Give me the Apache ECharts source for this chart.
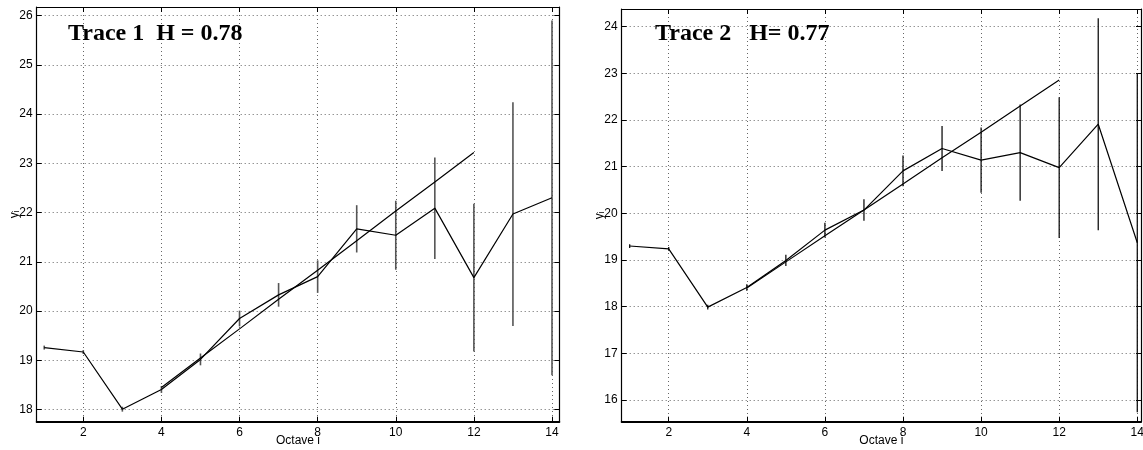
<!DOCTYPE html>
<html>
<head>
<meta charset="utf-8">
<script src="https://cdn.jsdelivr.net/npm/echarts@6/dist/echarts.min.js"></script>
<style>
  html, body { margin: 0; padding: 0; background: #fff; }
  #chart { width: 1143px; height: 450px; }
</style>
</head>
<body>
<div id="chart"></div>
<script>
// Octave index shared by both traces
const octaves = [1, 2, 3, 4, 5, 6, 7, 8, 9, 10, 11, 12, 13, 14];

// Trace 1: mean log-energy per octave, error half-widths, and fitted line over octaves 4..12
const trace1Mean = [19.26, 19.17, 18.01, 18.41, 19.02, 19.85, 20.33, 20.70, 21.67, 21.54, 22.09, 20.68, 21.97, 22.30];
const trace1Err  = [0.04, 0.04, 0.05, 0.07, 0.12, 0.16, 0.24, 0.33, 0.48, 0.70, 1.03, 1.50, 2.27, 3.60];
const fitOctaves = [4, 5, 6, 7, 8, 9, 10, 11, 12];
const trace1Fit  = [18.45, 19.05, 19.64, 20.24, 20.83, 21.43, 22.03, 22.62, 23.22];

// Trace 2
const trace2Mean = [19.30, 19.24, 17.99, 18.41, 18.99, 19.64, 20.07, 20.91, 21.39, 21.14, 21.30, 20.98, 21.91, 19.37];
const trace2Err  = [0.04, 0.04, 0.05, 0.07, 0.12, 0.16, 0.23, 0.33, 0.48, 0.70, 1.03, 1.51, 2.27, 3.63];
const trace2Fit  = [18.40, 18.96, 19.52, 20.07, 20.63, 21.19, 21.74, 22.30, 22.86];

// Tick labels
const xTicks  = [2, 4, 6, 8, 10, 12, 14];
const y1Ticks = [18, 19, 20, 21, 22, 23, 24, 25, 26];
const y2Ticks = [16, 17, 18, 19, 20, 21, 22, 23, 24];

const titles = ['Trace 1  H = 0.78', 'Trace 2   H= 0.77'];

const sansFont = 'Liberation Sans, Arial, sans-serif';
const serifFont = 'Liberation Serif, Times New Roman, serif';

const pairs = (xs, ys) => xs.map((x, i) => [x, ys[i]]);

function frameAxis(dim, gridIndex, pos, min, max, ticks, primary, extra) {
  const ax = {
    type: 'value',
    gridIndex: gridIndex,
    position: pos,
    min: min,
    max: max,
    axisLine: { show: true, onZero: false, lineStyle: { color: '#000', width: dim === 'x' && pos === 'bottom' ? 2 : 1.2 } },
    axisTick: { show: true, inside: true, length: 5, customValues: ticks, lineStyle: { color: '#000', width: 1 } },
    axisLabel: primary
      ? { show: true, customValues: ticks, color: '#000', fontSize: 12, fontFamily: sansFont, margin: dim === 'x' ? 5 : 4 }
      : { show: false },
    splitLine: primary
      ? { show: true, lineStyle: { color: '#666', width: 1, type: [1, 3] } }
      : { show: false }
  };
  return Object.assign(ax, extra || {});
}

function errorBars(xIdx, xs, mean, err, color, width) {
  return {
    type: 'custom',
    xAxisIndex: xIdx,
    yAxisIndex: xIdx,
    data: xs.map((x, i) => [x, mean[i] - err[i], mean[i] + err[i]]),
    encode: { x: 0, y: [1, 2] },
    renderItem: function (params, api) {
      const lo = api.coord([api.value(0), api.value(1)]);
      const hi = api.coord([api.value(0), api.value(2)]);
      return {
        type: 'line',
        shape: { x1: lo[0], y1: lo[1], x2: hi[0], y2: hi[1] },
        style: { stroke: color, lineWidth: width }
      };
    },
    z: 3
  };
}

function lineSeries(xIdx, data) {
  return {
    type: 'line',
    xAxisIndex: xIdx,
    yAxisIndex: xIdx,
    data: data,
    showSymbol: false,
    symbol: 'none',
    lineStyle: { color: '#000', width: 1.2 },
    z: 4
  };
}

const xName = {
  name: 'Octave i',
  nameLocation: 'middle',
  nameGap: 13,
  nameMoveOverlap: false,
  nameTextStyle: { color: '#000', fontSize: 12, fontFamily: sansFont, verticalAlign: 'top' }
};
const yName = {
  name: 'yᵢ',
  nameLocation: 'middle',
  nameGap: 16,
  nameMoveOverlap: false,
  nameTextStyle: { color: '#000', fontSize: 12, fontFamily: sansFont }
};

const option = {
  animation: false,
  backgroundColor: '#fff',
  title: [
    { text: titles[0], left: 68, top: 22, padding: 0,
      textStyle: { fontFamily: serifFont, fontWeight: 'bold', fontSize: 24, color: '#000' } },
    { text: titles[1], left: 655, top: 22, padding: 0,
      textStyle: { fontFamily: serifFont, fontWeight: 'bold', fontSize: 24, color: '#000' } }
  ],
  grid: [
    { left: 36.7, top: 7, width: 522.6, height: 414.7, containLabel: false, outerBoundsMode: 'none' },
    { left: 621.7, top: 9, width: 519.3, height: 412.7, containLabel: false, outerBoundsMode: 'none' }
  ],
  xAxis: [
    frameAxis('x', 0, 'bottom', 0.807, 14.187, xTicks, true, xName),
    frameAxis('x', 1, 'bottom', 0.796, 14.095, xTicks, true, xName),
    frameAxis('x', 0, 'top', 0.807, 14.187, xTicks, false),
    frameAxis('x', 1, 'top', 0.796, 14.095, xTicks, false)
  ],
  yAxis: [
    frameAxis('y', 0, 'left', 17.756, 26.172, y1Ticks, true, yName),
    frameAxis('y', 1, 'left', 15.535, 24.379, y2Ticks, true, yName),
    frameAxis('y', 0, 'right', 17.756, 26.172, y1Ticks, false),
    frameAxis('y', 1, 'right', 15.535, 24.379, y2Ticks, false)
  ],
  series: [
    errorBars(0, octaves, trace1Mean, trace1Err, '#555', 1.6),
    lineSeries(0, pairs(octaves, trace1Mean)),
    lineSeries(0, pairs(fitOctaves, trace1Fit)),
    errorBars(1, octaves, trace2Mean, trace2Err, '#111', 1.3),
    lineSeries(1, pairs(octaves, trace2Mean)),
    lineSeries(1, pairs(fitOctaves, trace2Fit))
  ]
};

const chart = echarts.init(document.getElementById('chart'), null, { renderer: 'canvas' });
chart.setOption(option);
</script>
</body>
</html>
